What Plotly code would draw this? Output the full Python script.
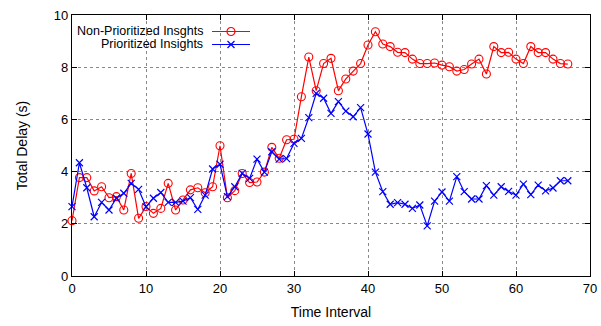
import plotly.graph_objects as go

x_vals = list(range(68))
non_prioritized = [2.12, 3.77, 3.77, 3.26, 3.42, 3.0, 3.04, 2.53, 3.93, 2.21,
                   2.66, 2.4, 2.59, 3.55, 2.53, 2.91, 3.3, 3.38, 3.19, 3.42,
                   4.99, 3.0, 3.27, 3.93, 3.58, 3.6, 3.98, 4.93, 4.51, 5.22,
                   5.24, 6.87, 8.39, 7.1, 8.14, 8.34, 7.1, 7.55, 7.85, 8.14,
                   8.85, 9.36, 8.89, 8.79, 8.57, 8.56, 8.31, 8.14, 8.14, 8.16,
                   8.08, 8.02, 7.85, 7.91, 8.12, 8.31, 7.74, 8.79, 8.56, 8.57,
                   8.31, 8.14, 8.79, 8.56, 8.56, 8.31, 8.14, 8.12]
prioritized = [2.66, 4.34, 3.38, 2.27, 2.82, 2.53, 2.98, 3.17, 3.55, 3.32,
               2.65, 2.98, 3.2, 2.82, 2.82, 2.87, 3.0, 2.55, 3.1, 4.1,
               4.28, 3.04, 3.42, 3.93, 3.74, 4.48, 3.98, 4.76, 4.48, 4.5,
               5.08, 5.27, 6.07, 7.0, 6.81, 6.23, 6.68, 6.32, 6.1, 6.45,
               5.44, 3.98, 3.23, 2.75, 2.81, 2.75, 2.59, 2.72, 1.92, 2.87,
               3.22, 2.87, 3.81, 3.23, 2.95, 2.95, 3.46, 3.1, 3.42, 3.24,
               3.1, 3.52, 3.12, 3.48, 3.26, 3.37, 3.65, 3.65]
series_names = ["Non-Prioritized Insghts", "Prioritized Insights"]
x_ticks = [0, 10, 20, 30, 40, 50, 60, 70]
y_ticks = [0, 2, 4, 6, 8, 10]

RED = "#ff0000"
BLUE = "#0000ff"
FONT = "Liberation Sans, Arial, Helvetica, sans-serif"

fig = go.Figure()
fig.add_trace(go.Scatter(
    x=x_vals, y=non_prioritized, mode="lines+markers", name=series_names[0],
    line=dict(color=RED, width=1.2),
    marker=dict(symbol="circle-open", size=8, color=RED, line=dict(width=1.1, color=RED)),
    cliponaxis=False, showlegend=False))
fig.add_trace(go.Scatter(
    x=x_vals, y=prioritized, mode="lines+markers", name=series_names[1],
    line=dict(color=BLUE, width=1.2),
    marker=dict(symbol="x-thin-open", size=7, color=BLUE, line=dict(width=1.2, color=BLUE)),
    cliponaxis=False, showlegend=False))

# gnuplot-style key: text right-aligned, sample on the right
W, H = 601, 326
L, R, T, B = 72, 11, 15, 50
pw, ph = W - L - R, H - T - B


def px_to_paper(px, py):
    return (px - L) / pw, 1 - (py - T) / ph


x0, y0 = px_to_paper(75, 21)
x1, y1 = px_to_paper(254, 53)
fig.add_shape(type="rect", xref="paper", yref="paper", x0=x0, x1=x1, y0=y1, y1=y0,
              fillcolor="white", line=dict(width=0), layer="between")
rows = [(series_names[0], 31.5, RED, "circle-open", 8),
        (series_names[1], 44.5, BLUE, "x-thin-open", 7)]
for name, py, col, sym, sz in rows:
    tx, ty = px_to_paper(205, py)
    fig.add_annotation(xref="paper", yref="paper", x=tx, y=ty, text=name,
                       showarrow=False, xanchor="right", yanchor="middle",
                       font=dict(family=FONT, size=12.5, color="black"))
    ax0, ay = px_to_paper(212, py)
    ax1, _ = px_to_paper(250, py)
    amid, _ = px_to_paper(231, py)
    fig.add_trace(go.Scatter(
        x=[ax0, ax1], y=[ay, ay], xaxis="x2", yaxis="y2", mode="lines",
        line=dict(color=col, width=1.2), showlegend=False, hoverinfo="skip"))
    fig.add_trace(go.Scatter(
        x=[amid], y=[ay], xaxis="x2", yaxis="y2", mode="markers",
        marker=dict(symbol=sym, size=sz, color=col, line=dict(width=1.2, color=col)),
        showlegend=False, hoverinfo="skip"))

axis_common = dict(
    showline=True, linecolor="black", linewidth=1.3, mirror="ticks",
    ticks="inside", ticklen=5, tickcolor="black", tickwidth=1,
    showgrid=True, gridcolor="#888888", griddash="dot", gridwidth=1,
    zeroline=False, automargin=False, tickfont=dict(family=FONT, size=13, color="black"),
)
fig.update_layout(
    width=W, height=H,
    margin=dict(l=L, r=R, t=T, b=B),
    paper_bgcolor="white", plot_bgcolor="white",
    font=dict(family=FONT, size=13, color="black"),
    xaxis=dict(range=[0, 70], tickvals=x_ticks,
               title=dict(text="Time Interval", font=dict(size=14), standoff=12),
               **axis_common),
    yaxis=dict(range=[0, 10], tickvals=y_ticks,
               title=dict(text="Total Delay (s)", font=dict(size=14), standoff=22),
               **axis_common),
    xaxis2=dict(range=[0, 1], domain=[0, 1], overlaying="x", visible=False, fixedrange=True),
    yaxis2=dict(range=[0, 1], domain=[0, 1], overlaying="y", visible=False, fixedrange=True),
    showlegend=False,
)

fig.write_html("out.html")
